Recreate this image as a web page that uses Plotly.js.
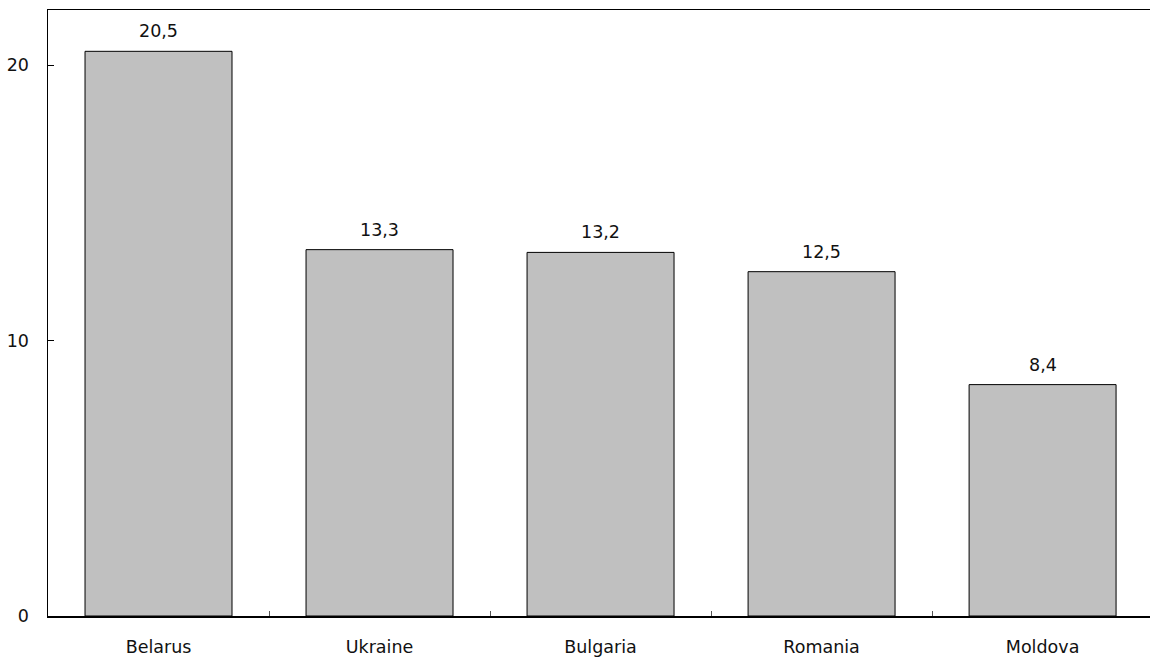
<!DOCTYPE html>
<html>
<head>
<meta charset="utf-8">
<script src="https://cdn.plot.ly/plotly-3.0.1.min.js"></script>
<style>html,body{margin:0;padding:0;background:#fff;}#chart{width:1150px;height:660px;}</style>
</head>
<body>
<div id="chart"></div>
<script>
const categories = ["Belarus", "Ukraine", "Bulgaria", "Romania", "Moldova"];
const values = [20.5, 13.3, 13.2, 12.5, 8.4];

const FONT = "DejaVu Sans, sans-serif";
const FS = 17.5;

const trace = {
  type: "bar",
  x: categories,
  y: values,
  marker: { color: "#c0c0c0", line: { color: "#000000", width: 1 } },
  hoverinfo: "skip"
};

const annotations = categories.map((c, i) => ({
  x: c,
  y: values[i],
  xref: "x",
  yref: "y",
  text: values[i].toFixed(1).replace(".", ","),
  showarrow: false,
  yanchor: "bottom",
  yshift: 8,
  font: { family: FONT, size: FS, color: "#111" }
}));

const layout = {
  width: 1150,
  height: 660,
  margin: { l: 48, r: 0, t: 10, b: 44 },
  paper_bgcolor: "#ffffff",
  plot_bgcolor: "#ffffff",
  showlegend: false,
  bargap: 0.335,
  font: { family: FONT, size: FS, color: "#111" },
  xaxis: {
    type: "category",
    range: [-0.5, 4.486],
    showline: true,
    linecolor: "#000",
    linewidth: 1.5,
    mirror: true,
    ticks: "inside",
    tickson: "boundaries",
    ticklen: 5,
    tickcolor: "#555",
    tickwidth: 1,
    showgrid: false,
    zeroline: false,
    ticklabelstandoff: 14,
    tickfont: { family: FONT, size: FS, color: "#111" }
  },
  yaxis: {
    range: [0, 22],
    dtick: 10,
    showline: true,
    linecolor: "#000",
    linewidth: 1.5,
    mirror: false,
    ticks: "inside",
    ticklen: 6,
    tickcolor: "#000",
    tickwidth: 1,
    showgrid: false,
    zeroline: false,
    ticklabelstandoff: 14,
    tickfont: { family: FONT, size: FS, color: "#111" }
  },
  annotations: annotations
};

Plotly.newPlot("chart", [trace], layout, { displayModeBar: false, staticPlot: true });
</script>
</body>
</html>
